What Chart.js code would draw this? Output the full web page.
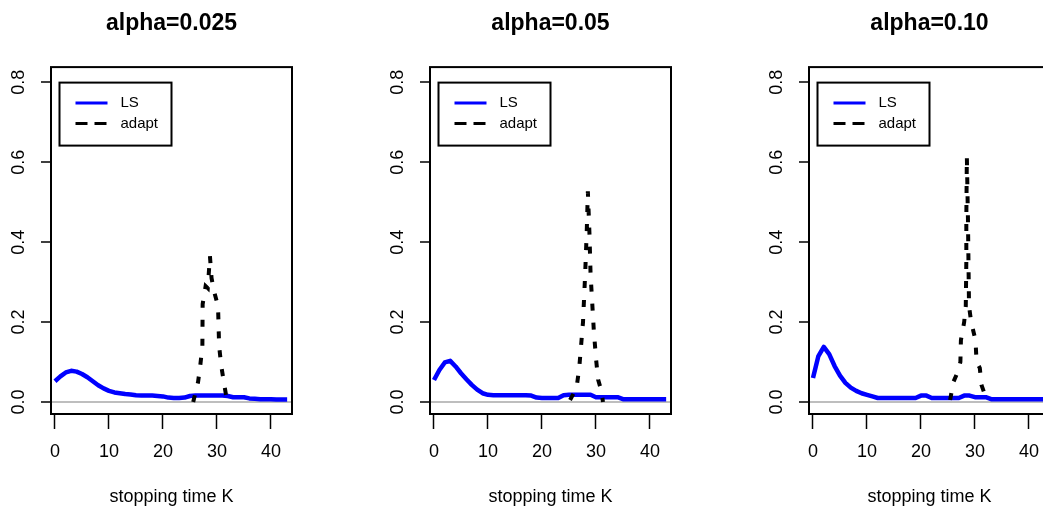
<!DOCTYPE html>
<html><head><meta charset="utf-8">
<script src="https://cdn.jsdelivr.net/npm/chart.js@4.4.1/dist/chart.umd.min.js"></script>
<style>
html,body{margin:0;padding:0;background:#fff;overflow:hidden;width:1043px;height:516px;}
.panel{position:absolute;top:0;width:379px;height:516px;}
</style></head><body>
<div class="panel" style="left:0px"><canvas id="c0" width="379" height="516"></canvas></div>
<div class="panel" style="left:379px"><canvas id="c1" width="379" height="516"></canvas></div>
<div class="panel" style="left:758px"><canvas id="c2" width="379" height="516"></canvas></div>
<script>
// ---- data ----
const panelTitles = ['alpha=0.025', 'alpha=0.05', 'alpha=0.10'];
const seriesNames = ['LS', 'adapt'];
const xAxisTitle = 'stopping time K';
const xTickValues = [0, 10, 20, 30, 40];
const yTickValues = [0.0, 0.2, 0.4, 0.6, 0.8];

const stoppingK = [0,1,2,3,4,5,6,7,8,9,10,11,12,13,14,15,16,17,18,19,20,21,22,23,24,25,26,27,28,29,30,31,32,33,34,35,36,37,38,39,40,41,42,43];

const lsAlpha025 = [0.052,0.064,0.074,0.078,0.076,0.070,0.062,0.052,0.042,0.034,0.028,0.024,0.022,0.020,0.019,0.017,0.016,0.016,0.016,0.015,0.014,0.011,0.010,0.010,0.011,0.015,0.016,0.016,0.016,0.016,0.016,0.016,0.015,0.012,0.012,0.012,0.009,0.008,0.007,0.007,0.007,0.006,0.006,0.006];
const lsAlpha05  = [0.055,0.080,0.099,0.103,0.089,0.072,0.057,0.043,0.031,0.022,0.018,0.017,0.017,0.017,0.017,0.017,0.017,0.017,0.016,0.011,0.010,0.010,0.010,0.010,0.017,0.018,0.018,0.018,0.018,0.018,0.012,0.012,0.012,0.012,0.012,0.007,0.007,0.007,0.007,0.007,0.007,0.007,0.007,0.007];
const lsAlpha10  = [0.060,0.115,0.138,0.120,0.090,0.066,0.048,0.036,0.028,0.022,0.018,0.014,0.010,0.010,0.010,0.010,0.010,0.010,0.010,0.010,0.016,0.016,0.010,0.010,0.010,0.010,0.010,0.010,0.016,0.016,0.012,0.012,0.012,0.007,0.007,0.007,0.007,0.007,0.007,0.007,0.007,0.007,0.007,0.007];

const adaptAlpha025K = [25.6,26.5,26.9,27.3,27.35,27.9,28.3,28.7,29.0,29.5,30.2,30.4,30.8,31.4,31.9];
const adaptAlpha025  = [0.0,0.05,0.09,0.14,0.245,0.29,0.285,0.365,0.31,0.275,0.24,0.14,0.09,0.04,0.0];
const adaptAlpha05K  = [25.2,26.4,26.9,27.3,27.6,28.0,28.3,28.5,28.8,29.0,29.3,29.6,30.0,30.4,31.0,31.3];
const adaptAlpha05   = [0.005,0.035,0.085,0.15,0.2,0.32,0.43,0.527,0.42,0.32,0.25,0.18,0.11,0.056,0.028,0.0];
const adaptAlpha10K  = [25.4,26.0,26.8,27.3,27.4,28.0,28.3,28.4,28.4,28.5,28.7,28.8,28.9,29.3,30.1,30.3,30.9,31.2,32.2];
const adaptAlpha10   = [0.005,0.05,0.075,0.1,0.155,0.2,0.24,0.35,0.46,0.614,0.46,0.35,0.24,0.2,0.155,0.1,0.085,0.043,0.005];

const lsSeries = [lsAlpha025, lsAlpha05, lsAlpha10];
const adaptK = [adaptAlpha025K, adaptAlpha05K, adaptAlpha10K];
const adaptSeries = [adaptAlpha025, adaptAlpha05, adaptAlpha10];

// ---- drawing ----
Chart.defaults.font.family = "'Liberation Sans', Arial, Helvetica, sans-serif";
Chart.defaults.color = '#000';

const boxPlugin = {
  id: 'rbox',
  afterDatasetsDraw(chart) {
    const a = chart.chartArea, ctx = chart.ctx;
    ctx.save();
    ctx.strokeStyle = '#000'; ctx.lineWidth = 2;
    ctx.strokeRect(a.left, a.top, a.right - a.left, a.bottom - a.top);
    ctx.restore();
  }
};

const insetLegend = {
  id: 'insetLegend',
  afterDraw(chart) {
    const a = chart.chartArea, ctx = chart.ctx;
    const x0 = a.left + 8.5, y0 = a.top + 15.5, w = 112, h = 63;
    ctx.save();
    ctx.fillStyle = '#fff';
    ctx.fillRect(x0, y0, w, h);
    ctx.strokeStyle = '#000'; ctx.lineWidth = 2;
    ctx.strokeRect(x0, y0, w, h);
    const rows = [y0 + 20.5, y0 + 41];
    chart.data.datasets.forEach((ds, i) => {
      const yy = rows[i];
      ctx.beginPath();
      ctx.strokeStyle = ds.borderColor;
      ctx.lineWidth = 3;
      ctx.setLineDash(i === 1 ? [12, 7] : []);
      ctx.moveTo(x0 + 16, yy); ctx.lineTo(x0 + 48, yy);
      ctx.stroke();
      ctx.setLineDash([]);
      ctx.fillStyle = '#000';
      ctx.font = "15px 'Liberation Sans', Arial, sans-serif";
      ctx.textBaseline = 'middle';
      ctx.textAlign = 'left';
      ctx.fillText(ds.label, x0 + 61, yy);
    });
    ctx.restore();
  }
};

function makePanel(i) {
  const lsPts = stoppingK.map((k, j) => ({x: k, y: lsSeries[i][j]}));
  const adPts = adaptK[i].map((k, j) => ({x: k, y: adaptSeries[i][j]}));
  return new Chart(document.getElementById('c' + i), {
    type: 'line',
    data: {
      datasets: [
        {label: seriesNames[0], data: lsPts, borderColor: '#0000ff', borderWidth: 4.5,
         pointRadius: 0, tension: 0, borderJoinStyle: 'round', order: 2},
        {label: seriesNames[1], data: adPts, borderColor: '#000000', borderWidth: 4,
         borderDash: [7, 12], borderCapStyle: 'butt', pointRadius: 0, tension: 0, order: 1}
      ]
    },
    options: {
      responsive: false, animation: false, devicePixelRatio: 1,
      layout: {padding: {left: 0, right: 87, top: 0, bottom: 0}},
      plugins: {
        legend: {display: false}, tooltip: {enabled: false},
        title: {display: true, text: panelTitles[i], fullSize: false,
                font: {size: 23, weight: 'bold'}, color: '#000',
                padding: {top: 9.5, bottom: 30}}
      },
      scales: {
        x: {
          type: 'linear', min: -0.74, max: 43.9,
          afterBuildTicks: s => { s.ticks = xTickValues.map(v => ({value: v})); },
          afterFit: s => { s.height = 102; },
          ticks: {minRotation: 0, maxRotation: 0, autoSkip: false, padding: 12,
                  font: {size: 18}, color: '#000', callback: v => String(v)},
          grid: {drawOnChartArea: false, tickColor: '#000', tickLength: 15, tickWidth: 1.5},
          border: {display: false},
          title: {display: true, text: xAxisTitle, font: {size: 18}, color: '#000',
                  padding: {top: 0, bottom: 8}}
        },
        y: {
          type: 'linear', min: -0.03, max: 0.838,
          afterBuildTicks: s => { s.ticks = yTickValues.map(v => ({value: v})); },
          afterFit: s => { s.width = 51; },
          ticks: {minRotation: 90, maxRotation: 90, crossAlign: 'center', padding: 9,
                  font: {size: 18}, color: '#000', callback: v => Number(v).toFixed(1)},
          grid: {color: c => (c.tick && c.tick.value === 0) ? '#bebebe' : 'rgba(0,0,0,0)',
                 lineWidth: 2, tickColor: '#000', tickLength: 10, tickWidth: 1.5},
          border: {display: false}
        }
      }
    },
    plugins: [boxPlugin, insetLegend]
  });
}
[0, 1, 2].forEach(makePanel);
</script>
</body></html>
